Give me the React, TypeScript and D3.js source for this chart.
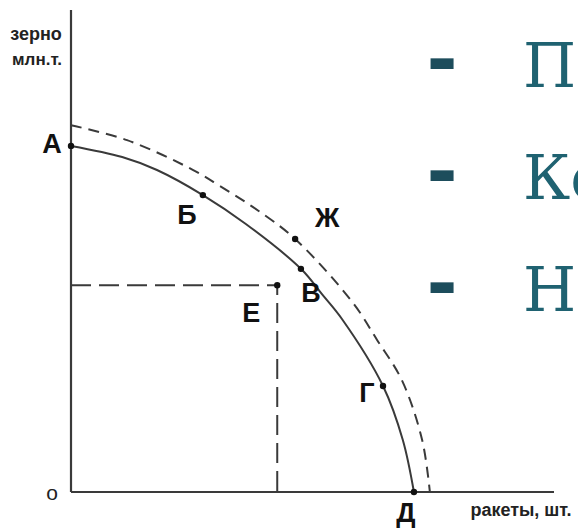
import React from 'react'
import * as d3 from 'd3'

// production possibilities frontier (rockets, grain)
const ppfRockets = [0, 10.6, 17.8, 27.3, 36.2, 47.6, 52.0, 56.1, 64.6, 68.7, 71.0]
const ppfGrain = [71.8, 69.5, 66.8, 61.6, 55.6, 46.3, 41.0, 35.9, 22.0, 10.8, 0]

// shifted frontier (dashed)
const shiftedRockets = [0, 11.6, 25.3, 30.8, 37.7, 46.4, 58.4, 63.4, 68.5, 72.7, 74.3]
const shiftedGrain = [76.1, 73.0, 66.8, 63.5, 59.1, 52.5, 39.2, 31.5, 23.2, 10.8, 0]

// marked points
const pointNames = ['А', 'Б', 'В', 'Г', 'Д', 'Е', 'Ж']
const pointRockets = [0, 27.3, 47.6, 64.6, 71.0, 42.7, 46.4]
const pointGrain = [71.8, 61.6, 46.3, 22.0, 0, 42.9, 52.5]

const yAxisLabel = ['зерно', 'млн.т.']
const xAxisLabel = 'ракеты, шт.'
const bulletItems = ['П', 'Ко', 'Н']

const W = 578
const H = 531

// label offsets relative to the dot (px)
const labelOffset = {
  'А': [-19, 7],
  'Б': [-16, 29],
  'В': [10, 33],
  'Г': [-16, 16],
  'Д': [-8, 30],
  'Е': [-26, 37],
  'Ж': [32, -12]
}

export default function App () {
  const x = d3.scaleLinear().domain([0, 100]).range([71, 554])
  const y = d3.scaleLinear().domain([0, 100]).range([492, 10])

  const line = d3.line<[number, number]>()
    .x(d => x(d[0]))
    .y(d => y(d[1]))
    .curve(d3.curveCatmullRom.alpha(0.5))

  const ppf = ppfRockets.map((r, i) => [r, ppfGrain[i]] as [number, number])
  const shifted = shiftedRockets.map((r, i) => [r, shiftedGrain[i]] as [number, number])
  const pts = pointNames.map((n, i) => ({ name: n, r: pointRockets[i], g: pointGrain[i] }))
  const e = pts.find(p => p.name === 'Е')

  const ink = '#3a3a3a'
  const sans = '"Liberation Sans", Arial, sans-serif'

  return (
    <svg width={W} height={H} style={{ position: 'absolute', left: 0, top: 0, background: '#fff', overflow: 'hidden' }}>
      {/* axes */}
      <line x1={x(0)} x2={x(0)} y1={y(0)} y2={y(100)} stroke={ink} strokeWidth={2.2} />
      <line x1={x(0)} x2={x(100)} y1={y(0)} y2={y(0)} stroke={ink} strokeWidth={2.2} />

      {/* point Е guides */}
      <path
        d={`M${x(0)},${y(e.g)}H${x(e.r)}V${y(0)}`}
        fill="none" stroke={ink} strokeWidth={2} strokeDasharray="20,8"
      />

      {/* curves */}
      <path d={line(shifted)} fill="none" stroke={ink} strokeWidth={2} strokeDasharray="11,7" />
      <path d={line(ppf)} fill="none" stroke={ink} strokeWidth={2} />

      {/* points */}
      {pts.map(p => (
        <g key={p.name}>
          <circle cx={x(p.r)} cy={y(p.g)} r={3.2} fill="#111" />
          <text
            x={x(p.r) + labelOffset[p.name][0]}
            y={y(p.g) + labelOffset[p.name][1]}
            textAnchor="middle" fontFamily={sans} fontWeight="bold" fontSize={27} fill="#111"
          >{p.name}</text>
        </g>
      ))}

      {/* axis labels */}
      <text x={36} y={40} textAnchor="middle" fontFamily={sans} fontWeight="bold" fontSize={18} fill="#222">{yAxisLabel[0]}</text>
      <text x={37} y={65} textAnchor="middle" fontFamily={sans} fontWeight="bold" fontSize={17} fill="#222">{yAxisLabel[1]}</text>
      <text x={52} y={500} textAnchor="middle" fontFamily={sans} fontSize={21} fill="#222">o</text>
      <text x={521} y={516} textAnchor="middle" fontFamily={sans} fontWeight="bold" fontSize={18} fill="#222">{xAxisLabel}</text>

      {/* slide bullets */}
      {bulletItems.map((t, i) => (
        <g key={t}>
          <text x={442} y={84.5 + i * 112} textAnchor="middle" fontFamily='"DejaVu Sans", sans-serif' fontWeight="bold" fontSize={75} fill="#1d4d5c">-</text>
          <text x={523} y={87 + i * 112} fontFamily='"DejaVu Serif", serif' fontSize={61} fill="#1f6271">{t}</text>
        </g>
      ))}
    </svg>
  )
}
